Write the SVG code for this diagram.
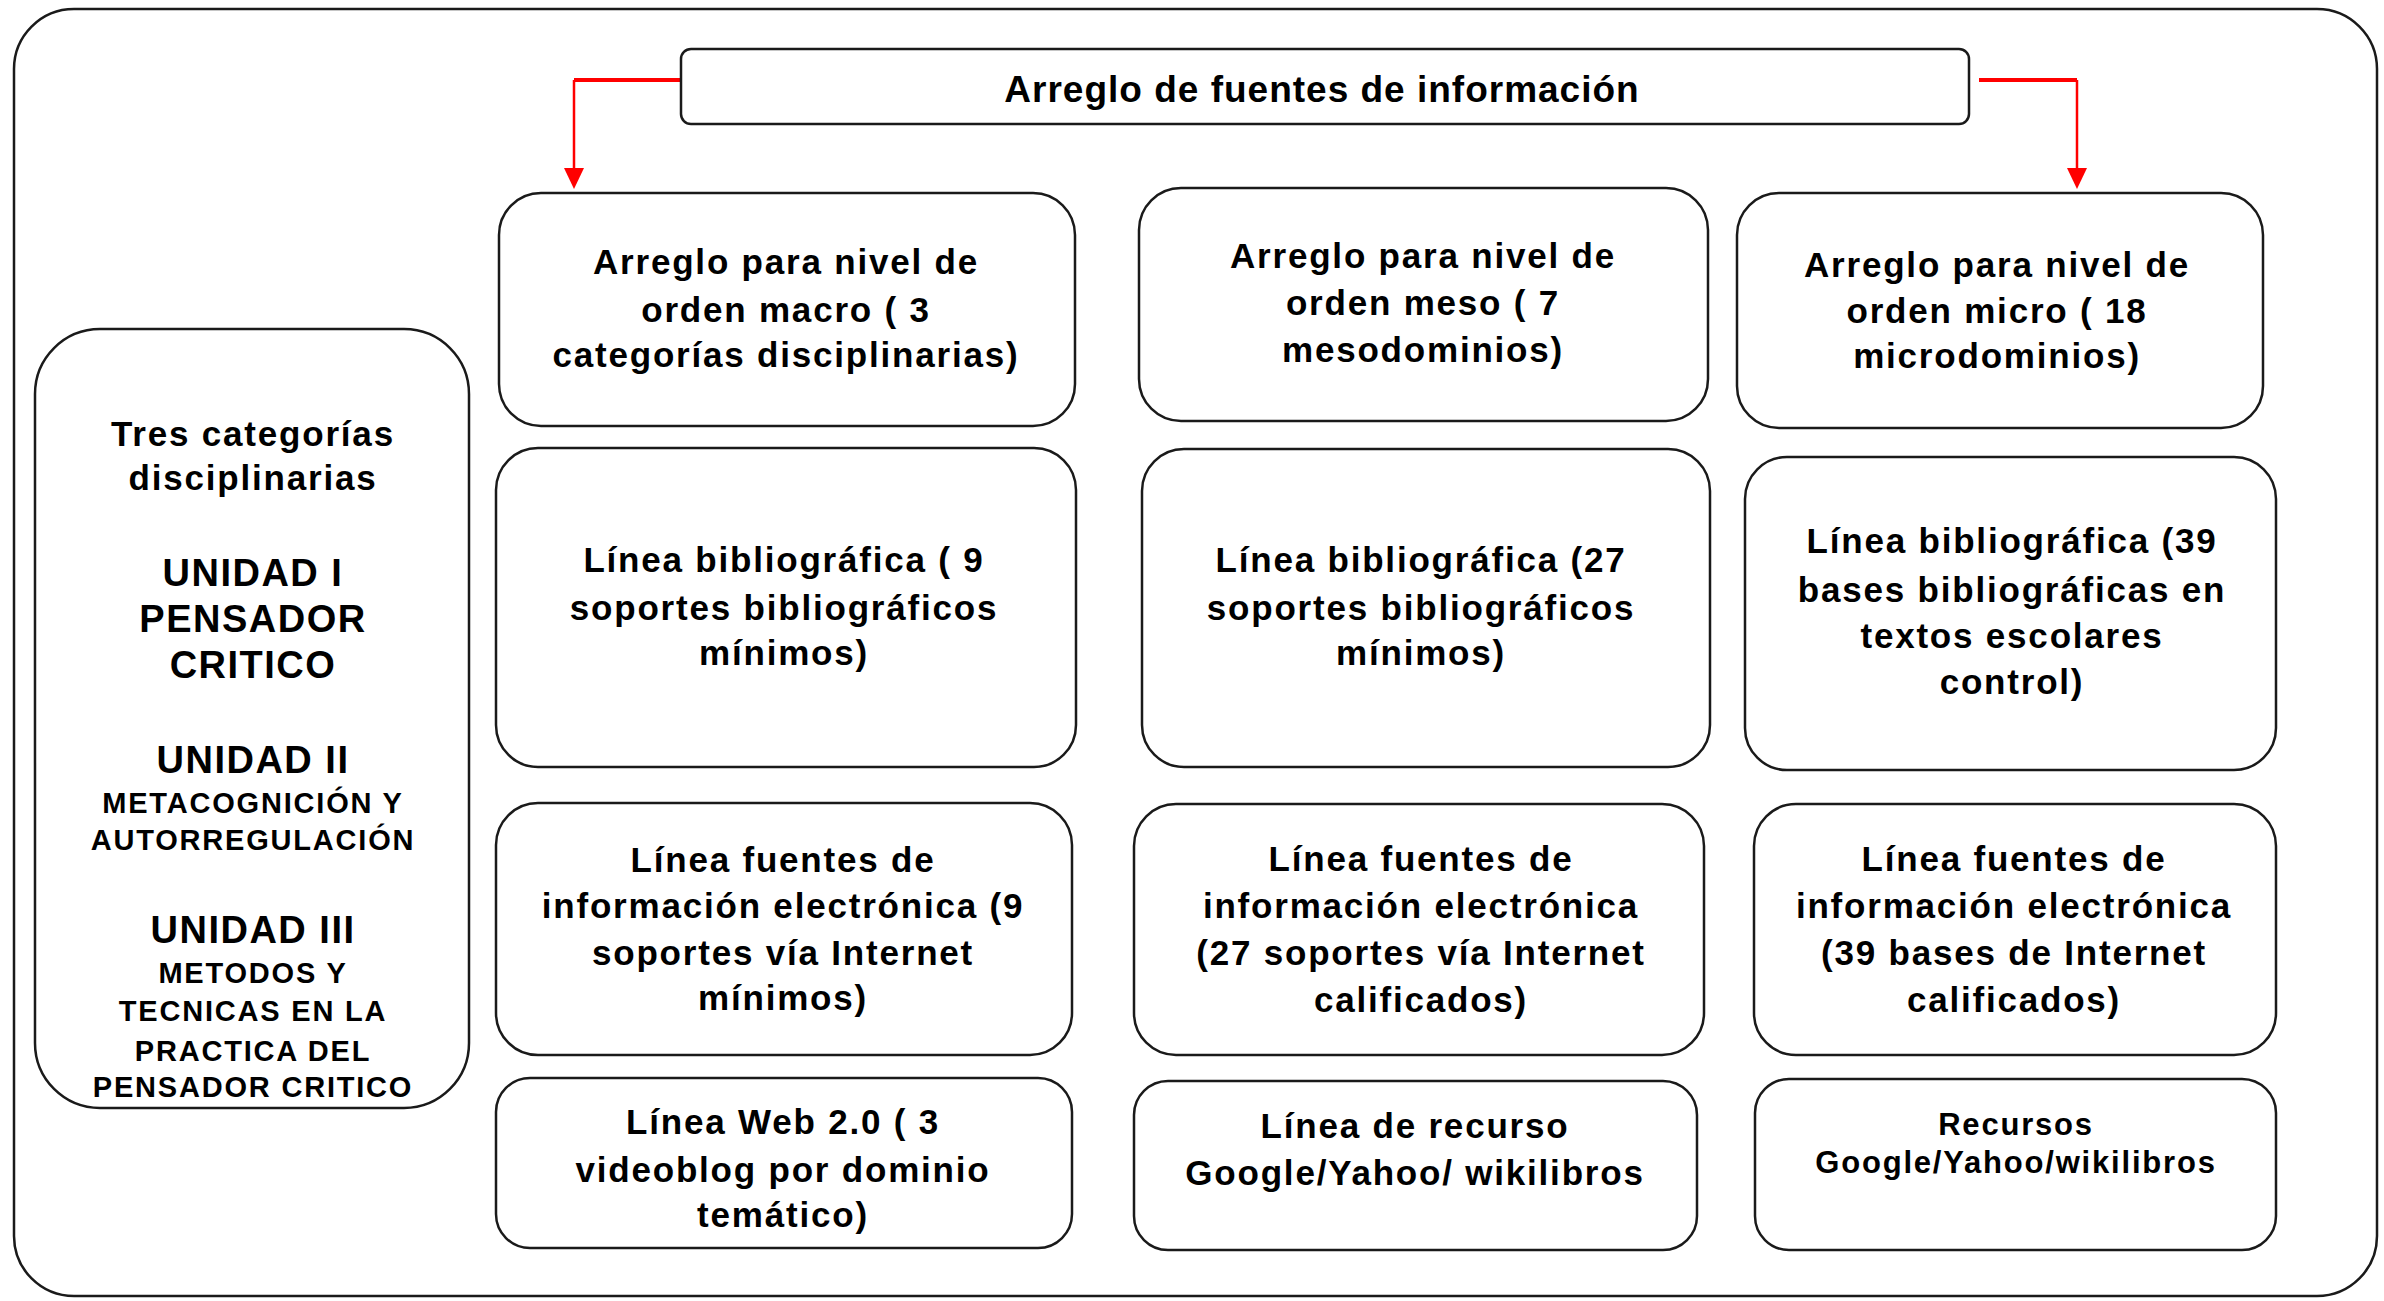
<svg xmlns="http://www.w3.org/2000/svg" width="2384" height="1301" viewBox="0 0 2384 1301">
<style>
.box{fill:#fff;stroke:#1a1a1a;stroke-width:2.5}
.t{font-family:"Liberation Sans",Arial,sans-serif;font-weight:bold;font-size:35px;letter-spacing:1.8px;text-anchor:middle;fill:#000}
.u{font-size:38px;letter-spacing:1.5px}
.s{font-size:29px;letter-spacing:1.8px}
.r{font-size:31px}
.ttl{font-size:37px;letter-spacing:1px}
.ah{stroke:#ff0000;fill:none}
</style>
<rect width="2384" height="1301" fill="#fff"/>
<g id="frame"><rect class="box" x="14" y="9" width="2363" height="1287" rx="60"/></g>
<g id="connectors">
<polyline class="ah" points="681,80 574,80" stroke-width="4"/>
<line class="ah" x1="574" y1="80" x2="574" y2="170" stroke-width="2.5"/>
<polygon points="564,168 584,168 574,189" fill="#ff0000"/>
<polyline class="ah" points="1979,80 2077,80" stroke-width="4"/>
<line class="ah" x1="2077" y1="80" x2="2077" y2="170" stroke-width="2.5"/>
<polygon points="2067,168 2087,168 2077,189" fill="#ff0000"/>
</g>
<g id="title"><rect class="box" x="681" y="49" width="1288" height="75" rx="10"/>
<text class="t ttl" x="1322" y="102">Arreglo de fuentes de información</text></g>
<g id="left"><rect class="box" x="35" y="329" width="434" height="779" rx="65"/>
<text class="t" x="253" y="446">Tres categorías</text>
<text class="t" x="253" y="490">disciplinarias</text>
<text class="t u" x="253" y="586">UNIDAD I</text>
<text class="t u" x="253" y="632">PENSADOR</text>
<text class="t u" x="253" y="678">CRITICO</text>
<text class="t u" x="253" y="773">UNIDAD II</text>
<text class="t s" x="253" y="813">METACOGNICIÓN Y</text>
<text class="t s" x="253" y="850">AUTORREGULACIÓN</text>
<text class="t u" x="253" y="943">UNIDAD III</text>
<text class="t s" x="253" y="983">METODOS Y</text>
<text class="t s" x="253" y="1021">TECNICAS EN LA</text>
<text class="t s" x="253" y="1061">PRACTICA DEL</text>
<text class="t s" x="253" y="1097">PENSADOR CRITICO</text></g>
<g id="macro"><rect class="box" x="499" y="193" width="576" height="233" rx="42"/>
<text class="t" x="786" y="274">Arreglo para nivel de</text>
<text class="t" x="786" y="322">orden macro ( 3</text>
<text class="t" x="786" y="367">categorías disciplinarias)</text></g>
<g id="meso"><rect class="box" x="1139" y="188" width="569" height="233" rx="42"/>
<text class="t" x="1423" y="268">Arreglo para nivel de</text>
<text class="t" x="1423" y="315">orden meso ( 7</text>
<text class="t" x="1423" y="362">mesodominios)</text></g>
<g id="micro"><rect class="box" x="1737" y="193" width="526" height="235" rx="42"/>
<text class="t" x="1997" y="277">Arreglo para nivel de</text>
<text class="t" x="1997" y="323">orden micro ( 18</text>
<text class="t" x="1997" y="368">microdominios)</text></g>
<g id="bib9"><rect class="box" x="496" y="448" width="580" height="319" rx="42"/>
<text class="t" x="784" y="572">Línea bibliográfica ( 9</text>
<text class="t" x="784" y="620">soportes bibliográficos</text>
<text class="t" x="784" y="665">mínimos)</text></g>
<g id="bib27"><rect class="box" x="1142" y="449" width="568" height="318" rx="42"/>
<text class="t" x="1421" y="572">Línea bibliográfica (27</text>
<text class="t" x="1421" y="620">soportes bibliográficos</text>
<text class="t" x="1421" y="665">mínimos)</text></g>
<g id="bib39"><rect class="box" x="1745" y="457" width="531" height="313" rx="42"/>
<text class="t" x="2012" y="553">Línea bibliográfica (39</text>
<text class="t" x="2012" y="602">bases bibliográficas en</text>
<text class="t" x="2012" y="648">textos escolares</text>
<text class="t" x="2012" y="694">control)</text></g>
<g id="elec9"><rect class="box" x="496" y="803" width="576" height="252" rx="42"/>
<text class="t" x="783" y="872">Línea fuentes de</text>
<text class="t" x="783" y="918">información electrónica (9</text>
<text class="t" x="783" y="965">soportes vía Internet</text>
<text class="t" x="783" y="1010">mínimos)</text></g>
<g id="elec27"><rect class="box" x="1134" y="804" width="570" height="251" rx="42"/>
<text class="t" x="1421" y="871">Línea fuentes de</text>
<text class="t" x="1421" y="918">información electrónica</text>
<text class="t" x="1421" y="965">(27 soportes vía Internet</text>
<text class="t" x="1421" y="1012">calificados)</text></g>
<g id="elec39"><rect class="box" x="1754" y="804" width="522" height="251" rx="42"/>
<text class="t" x="2014" y="871">Línea fuentes de</text>
<text class="t" x="2014" y="918">información electrónica</text>
<text class="t" x="2014" y="965">(39 bases de Internet</text>
<text class="t" x="2014" y="1012">calificados)</text></g>
<g id="web"><rect class="box" x="496" y="1078" width="576" height="170" rx="34"/>
<text class="t" x="783" y="1134">Línea Web 2.0 ( 3</text>
<text class="t" x="783" y="1182">videoblog por dominio</text>
<text class="t" x="783" y="1227">temático)</text></g>
<g id="recurso"><rect class="box" x="1134" y="1081" width="563" height="169" rx="34"/>
<text class="t" x="1415" y="1138">Línea de recurso</text>
<text class="t" x="1415" y="1185">Google/Yahoo/ wikilibros</text></g>
<g id="recursos"><rect class="box" x="1755" y="1079" width="521" height="171" rx="34"/>
<text class="t r" x="2016" y="1135">Recursos</text>
<text class="t r" x="2016" y="1173">Google/Yahoo/wikilibros</text></g>
</svg>
